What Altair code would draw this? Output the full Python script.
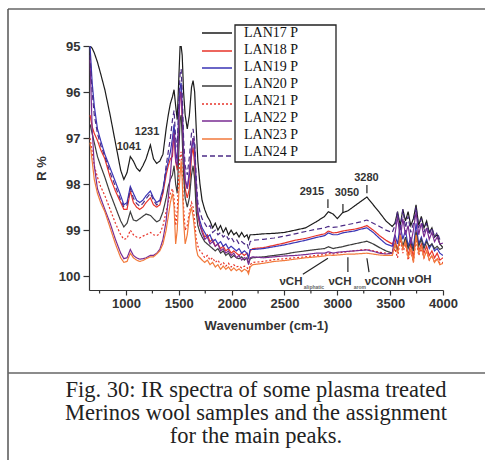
import altair as alt
import pandas as pd

# ---------------- data ----------------
wavenumber = [
    660, 680, 700, 730, 760, 800, 850, 900, 950, 980, 1010, 1041, 1070, 1100, 1130, 1160, 1190, 1231, 1260, 1290, 1320, 1350, 1380,
    1400, 1420, 1440, 1455, 1470, 1485, 1500, 1512, 1522, 1532, 1545, 1560, 1580, 1600, 1620, 1635, 1650, 1665, 1680, 1700,
    1720, 1745, 1770, 1795, 1820, 1845, 1870, 1895, 1920, 1945, 1970, 1995, 2020, 2045, 2070, 2095, 2120, 2145, 2160, 2175, 2200,
    2300, 2400, 2500, 2600, 2700, 2800, 2880, 2915, 2960, 3000, 3050, 3100, 3160, 3220, 3280, 3340, 3400, 3460, 3520,
    3545, 3570, 3595, 3620, 3645, 3670, 3695, 3720, 3745, 3770, 3795, 3820, 3845, 3870, 3895, 3920, 3945, 3970, 4000,
]

lan17 = [
    95.0, 95.05, 95.15, 95.35, 95.6, 95.95, 96.5, 97.1, 97.7, 97.9, 97.75, 97.4, 97.5, 97.65, 97.72, 97.6, 97.45, 97.15, 97.45, 97.55, 97.5, 97.35, 96.8,
    96.5, 96.25, 96.1, 95.95, 96.3, 96.6, 95.7, 95.0, 95.0, 95.2, 96.0, 96.5, 96.8, 96.5, 95.9, 95.75, 96.0, 96.8, 97.5, 98.0,
    98.35, 98.55, 98.7, 98.8, 98.95, 98.85, 99.0, 98.9, 99.05, 98.95, 99.1, 99.0, 99.1, 99.05, 99.15, 99.05, 99.15, 99.1, 99.2, 99.1, 99.1,
    99.08, 99.07, 99.05, 99.0, 98.95, 98.82, 98.7, 98.6, 98.65, 98.75, 98.62, 98.58, 98.48, 98.38, 98.28, 98.45, 98.62, 98.8, 98.92,
    98.85, 98.6, 98.9, 98.55, 98.8, 98.6, 98.9, 98.75, 98.45, 98.9, 98.7, 98.95, 98.8, 99.05, 98.95, 99.15, 99.1, 99.3, 99.38,
]
lan18 = [
    96.5, 96.75, 96.9, 97.05, 97.25, 97.45, 97.85, 98.15, 98.4, 98.55, 98.55, 98.15, 98.4, 98.5, 98.55, 98.5, 98.4, 98.3, 98.45, 98.5, 98.45, 98.2, 97.8,
    97.6, 97.45, 97.4, 96.8, 97.5, 97.7, 96.6, 96.0, 96.0, 96.6, 97.6, 98.1, 98.3, 98.1, 97.4, 97.2, 97.6, 98.4, 98.7, 98.9,
    99.0, 99.15, 99.1, 99.25, 99.2, 99.35, 99.3, 99.4, 99.35, 99.45, 99.4, 99.5, 99.45, 99.5, 99.55, 99.5, 99.55, 99.5, 99.6, 99.45, 99.4,
    99.38, 99.33, 99.28, 99.22, 99.18, 99.12, 99.08, 99.02, 99.06, 99.05, 99.02, 99.0, 98.98, 98.95, 98.9, 99.0, 99.12, 99.22, 99.3,
    99.2, 99.45, 99.1, 99.4, 99.2, 99.55, 99.3, 99.6, 99.0, 99.45, 99.3, 99.5, 99.35, 99.55, 99.45, 99.6, 99.5, 99.65, 99.6,
]
lan19 = [
    95.0, 95.8, 96.3, 96.8, 97.05, 97.35, 97.65, 97.95, 98.25, 98.45, 98.4, 98.05, 98.2, 98.35, 98.4, 98.35, 98.25, 98.15, 98.3, 98.4, 98.35, 98.1, 97.7,
    97.5, 97.3, 97.0, 96.7, 97.3, 97.5, 96.4, 95.9, 95.8, 96.3, 97.3, 97.9, 98.1, 97.8, 97.3, 97.0, 97.3, 98.2, 98.6, 98.8,
    98.95, 99.05, 99.15, 99.1, 99.25, 99.2, 99.3, 99.25, 99.35, 99.3, 99.4, 99.35, 99.4, 99.45, 99.4, 99.5, 99.45, 99.5, 99.6, 99.42, 99.42,
    99.4, 99.36, 99.32, 99.27, 99.22, 99.16, 99.12, 99.06, 99.1, 99.1, 99.06, 99.04, 99.02, 98.98, 98.95, 99.05, 99.18, 99.3, 99.35,
    99.1, 99.3, 98.9, 99.2, 99.0, 99.35, 99.15, 99.4, 98.85, 99.3, 99.15, 99.35, 99.2, 99.4, 99.3, 99.45, 99.4, 99.5, 99.55,
]
lan20 = [
    96.7, 96.9, 97.1, 97.4, 97.6, 97.85, 98.2, 98.5, 98.8, 98.93, 98.85, 98.6, 98.78, 98.8, 98.75, 98.7, 98.65, 98.68, 98.75, 98.82, 98.78, 98.6, 98.3,
    98.05, 97.9, 97.8, 97.6, 98.0, 98.2, 97.3, 96.6, 96.5, 97.0, 97.8, 98.3, 98.5, 98.3, 97.8, 97.6, 97.9, 98.6, 98.9, 99.05,
    99.15, 99.25, 99.3, 99.35, 99.4, 99.45, 99.4, 99.5, 99.45, 99.55, 99.5, 99.6, 99.55, 99.6, 99.62, 99.58, 99.65, 99.6, 99.72, 99.62, 99.6,
    99.58, 99.55, 99.52, 99.48, 99.45, 99.42, 99.4, 99.36, 99.4, 99.38, 99.36, 99.33, 99.3, 99.27, 99.24, 99.3, 99.38, 99.45, 99.5,
    99.3, 99.45, 99.1, 99.35, 99.15, 99.4, 99.25, 99.45, 99.05, 99.35, 99.2, 99.4, 99.25, 99.35, 99.3, 99.4, 99.35, 99.42, 99.38,
]
lan21 = [
    97.0, 97.3, 97.6, 97.85, 98.05, 98.25, 98.55, 98.85, 99.1, 99.2, 99.18, 99.0, 99.1, 99.15, 99.17, 99.13, 99.1, 99.05, 99.1, 99.12, 99.08, 98.9, 98.6,
    98.4, 98.2, 98.1, 98.3, 98.9, 98.6, 97.8, 97.4, 97.3, 97.7, 98.5, 99.0, 98.9, 98.6, 98.4, 98.5, 98.8, 99.2, 99.35, 99.45,
    99.5, 99.6, 99.55, 99.65, 99.6, 99.7, 99.65, 99.75, 99.7, 99.78, 99.72, 99.8, 99.75, 99.8, 99.78, 99.82, 99.78, 99.8, 99.9, 99.75, 99.7,
    99.68, 99.64, 99.62, 99.6, 99.58, 99.55, 99.53, 99.5, 99.52, 99.5, 99.48, 99.47, 99.45, 99.43, 99.42, 99.45, 99.48, 99.5, 99.52,
    99.4, 99.6, 99.2, 99.5, 99.3, 99.65, 99.45, 99.7, 99.2, 99.55, 99.4, 99.6, 99.45, 99.65, 99.55, 99.7, 99.6, 99.72, 99.7,
]
lan22 = [
    95.3, 96.8, 97.6, 98.1, 98.3, 98.55, 98.85, 99.2, 99.5, 99.62, 99.6, 99.42, 99.55, 99.6, 99.63, 99.62, 99.6, 99.55, 99.55, 99.5, 99.42, 99.2, 98.8,
    98.3, 97.8, 97.2, 96.9, 97.5, 97.6, 96.6, 96.1, 96.0, 96.4, 97.4, 97.9, 98.1, 97.7, 97.2, 97.0, 97.15, 98.0, 98.6, 98.9,
    99.05, 99.2, 99.15, 99.3, 99.25, 99.35, 99.3, 99.45, 99.4, 99.5, 99.45, 99.55, 99.5, 99.6, 99.55, 99.65, 99.6, 99.62, 99.75, 99.6, 99.58,
    99.6, 99.58, 99.56, 99.55, 99.53, 99.5, 99.5, 99.47, 99.5, 99.48, 99.47, 99.46, 99.45, 99.44, 99.43, 99.46, 99.5, 99.52, 99.5,
    99.1, 98.7, 99.2, 98.75, 99.1, 98.9, 99.3, 99.0, 98.6, 99.1, 98.85, 99.15, 98.95, 99.2, 99.05, 99.25, 99.15, 99.3, 99.28,
]
lan23 = [
    97.1, 97.5, 97.9, 98.2, 98.4, 98.6, 98.95, 99.3, 99.6, 99.7, 99.68, 99.5, 99.6, 99.65, 99.68, 99.66, 99.62, 99.58, 99.58, 99.52, 99.45, 99.3, 99.0,
    98.7, 98.4, 98.2, 98.5, 99.3, 99.0, 98.2, 97.8, 97.5, 97.9, 98.8, 99.3, 99.1, 98.7, 98.5, 98.7, 99.0, 99.4, 99.55, 99.6,
    99.65, 99.7, 99.65, 99.75, 99.7, 99.8, 99.75, 99.85, 99.78, 99.85, 99.8, 99.88, 99.82, 99.88, 99.84, 99.9, 99.85, 99.88, 99.95, 99.8, 99.75,
    99.72, 99.68, 99.66, 99.63, 99.6, 99.58, 99.56, 99.54, 99.55, 99.54, 99.53, 99.52, 99.52, 99.51, 99.5, 99.52, 99.54, 99.55, 99.55,
    99.3, 99.5, 99.1, 99.4, 99.25, 99.6, 99.4, 99.7, 99.1, 99.5, 99.35, 99.6, 99.45, 99.65, 99.55, 99.7, 99.62, 99.75, 99.72,
]
lan24 = [
    95.2, 96.0, 96.5, 96.9, 97.15, 97.4, 97.75, 98.05, 98.35, 98.5, 98.45, 98.1, 98.3, 98.42, 98.48, 98.42, 98.32, 98.2, 98.35, 98.45, 98.4, 98.15, 97.6,
    97.3, 97.0, 96.6, 96.4, 97.0, 97.2, 96.2, 95.6, 95.5, 96.0, 97.0, 97.6, 97.8, 97.4, 96.9, 96.8, 97.1, 97.9, 98.4, 98.6,
    98.75, 98.85, 98.95, 98.9, 99.05, 99.0, 99.1, 99.05, 99.15, 99.1, 99.2, 99.15, 99.25, 99.2, 99.3, 99.25, 99.3, 99.28, 99.4, 99.25, 99.22,
    99.2, 99.17, 99.13, 99.08, 99.03, 98.98, 98.95, 98.92, 98.94, 98.93, 98.9, 98.88, 98.85, 98.82, 98.78, 98.85, 98.92, 99.0, 99.05,
    98.9, 98.6, 99.0, 98.55, 98.95, 98.7, 99.05, 98.85, 98.5, 98.95, 98.75, 99.05, 98.85, 99.1, 98.95, 99.15, 99.05, 99.2, 99.22,
]

series_names = ["LAN17 P", "LAN18 P", "LAN19 P", "LAN20 P", "LAN21 P", "LAN22 P", "LAN23 P", "LAN24 P"]
series_values = [lan17, lan18, lan19, lan20, lan21, lan22, lan23, lan24]

x_major_ticks = [1000, 1500, 2000, 2500, 3000, 3500, 4000]
x_minor_ticks = [750, 1250, 1750, 2250, 2750, 3250, 3750]

peak_labels = ["1041", "1231", "2915", "3050", "3280"]
peak_w = [1028, 1199, 2760, 3091, 3275]
peak_r = [97.2, 96.87, 98.17, 98.2, 97.87]

band_labels = ["νCH", "νCH", "νCONH", "νOH"]
band_w = [2561, 3025, 3450, 3781]
band_r = [100.13, 100.13, 100.12, 100.08]

sub_labels = ["aliphatic", "arom"]
sub_w = [2779, 3214]
sub_r = [100.24, 100.24]

seg_w = [2911, 3053, 3280, 2674, 3100, 3280]
seg_w2 = [2911, 3053, 3280, 2911, 3100, 3300]
seg_r = [98.33, 98.43, 98.02, 99.96, 99.59, 99.61]
seg_r2 = [98.52, 98.63, 98.2, 99.61, 99.91, 99.91]

caption_lines = [
    "Fig. 30: IR spectra of some plasma treated",
    "Merinos wool samples and the assignment",
    "for the main peaks.",
]

# ---------------- styling ----------------
series_colors = ["#1c1c1c", "#e8342a", "#3a35b5", "#3c3c3c", "#e8342a", "#7a2c92", "#f27a3c", "#4c2c86"]
series_dash = [[1, 0], [1, 0], [1, 0], [1, 0], [2, 2], [1, 0], [1, 0], [5, 3]]

for v in series_values:
    assert len(v) == len(wavenumber)

rows = []
for name, vals in zip(series_names, series_values):
    for w, r in zip(wavenumber, vals):
        rows.append({"series": name, "w": w, "R": r})
df = pd.DataFrame(rows)

ann_peaks = pd.DataFrame({"label": peak_labels, "w": peak_w, "R": peak_r})
ann_bands = pd.DataFrame({"label": band_labels, "w": band_w, "R": band_r})
ann_subs = pd.DataFrame({"label": sub_labels, "w": sub_w, "R": sub_r})
ann_segs = pd.DataFrame({"w": seg_w, "w2": seg_w2, "R": seg_r, "R2": seg_r2})
minor_df = pd.DataFrame({"w": x_minor_ticks})

SANS = "Liberation Sans"
SERIF = "Liberation Serif"
AX = "#333333"

xscale = alt.Scale(domain=[650, 4000], nice=False, zero=False)
yscale = alt.Scale(domain=[95, 100.3], reverse=True, nice=False, zero=False)

xaxis = alt.Axis(
    values=x_major_ticks,
    format="d",
    labelOverlap=False,
    tickSize=5,
    title="Wavenumber (cm-1)",
    titleFont=SANS, titleFontSize=13, titleFontWeight="bold", titleColor=AX, titlePadding=9,
    labelFont=SANS, labelFontSize=13, labelFontWeight="bold", labelColor=AX, labelPadding=2,
    domainColor=AX, tickColor=AX, domainWidth=1.2, tickWidth=1.2, grid=False, labelFlush=False,
)
yaxis = alt.Axis(
    values=[95, 95.5, 96, 96.5, 97, 97.5, 98, 98.5, 99, 99.5, 100],
    labelExpr="datum.value % 1 === 0 ? datum.label : ''",
    labelOverlap=False,
    tickSize={"condition": {"test": "datum.value % 1 === 0", "value": 6}, "value": 3},
    title="R %",
    titleFont=SANS, titleFontSize=13, titleFontWeight="bold", titleColor=AX, titlePadding=10,
    labelFont=SANS, labelFontSize=13, labelFontWeight="bold", labelColor=AX, labelPadding=3,
    domainColor=AX, tickColor=AX, domainWidth=1.2, tickWidth=1.2, grid=False, labelFlush=False,
)

lines = alt.Chart(df).mark_line(strokeWidth=1.2, clip=True).encode(
    x=alt.X("w:Q", scale=xscale, axis=xaxis),
    y=alt.Y("R:Q", scale=yscale, axis=yaxis),
    color=alt.Color("series:N", scale=alt.Scale(domain=series_names, range=series_colors), legend=None),
    strokeDash=alt.StrokeDash("series:N", scale=alt.Scale(domain=series_names, range=series_dash), legend=None),
)

minor = alt.Chart(minor_df).mark_rule(color=AX, strokeWidth=1.2).encode(
    x="w:Q", y=alt.value(244), y2=alt.value(247.5))

peaks = alt.Chart(ann_peaks).mark_text(font=SANS, fontSize=11, fontWeight="bold", color=AX).encode(
    x="w:Q", y="R:Q", text="label:N")
bands = alt.Chart(ann_bands).mark_text(font=SANS, fontSize=11.5, fontWeight="bold", color=AX).encode(
    x="w:Q", y="R:Q", text="label:N")
subs = alt.Chart(ann_subs).mark_text(font=SANS, fontSize=5, fontWeight="bold", color="#666").encode(
    x="w:Q", y="R:Q", text="label:N")
segs = alt.Chart(ann_segs).mark_rule(color="#222", strokeWidth=1.2).encode(
    x="w:Q", x2="w2:Q", y="R:Q", y2="R2:Q")

one = pd.DataFrame({"k": [0]})

# legend: samples outside a framed label box
legend_layers = []
sym_y = [-13, 5, 22, 40, 58, 75, 93, 110]
for i, name in enumerate(series_names):
    legend_layers.append(
        alt.Chart(one).mark_rule(color=series_colors[i], strokeDash=series_dash[i], strokeWidth=1.4).encode(
            x=alt.value(113), x2=alt.value(143), y=alt.value(sym_y[i]))
    )
legend_box = alt.Chart(one).mark_rect(fillOpacity=0, stroke="#222", strokeWidth=1.3).encode(
    x=alt.value(146), x2=alt.value(247), y=alt.value(-21), y2=alt.value(116))
legend_text = alt.Chart(one).mark_text(
    text=series_names, font=SERIF, fontSize=14, lineHeight=17, align="left", baseline="middle", color="#111"
).encode(x=alt.value(155), y=alt.value(-13))

# outer frame and caption
frame_top = alt.Chart(one).mark_rule(color="#666", strokeWidth=1.5).encode(
    x=alt.value(-81), x2=alt.value(400), y=alt.value(-37))
frame_left = alt.Chart(one).mark_rule(color="#555", strokeWidth=1.5).encode(
    x=alt.value(-81), y=alt.value(-37), y2=alt.value(420))
frame_sep = alt.Chart(one).mark_rule(color="#666", strokeWidth=1.5).encode(
    x=alt.value(-81), x2=alt.value(400), y=alt.value(327))
caption = alt.Chart(one).mark_text(
    text=caption_lines, font=SERIF, fontSize=22.5, lineHeight=23, align="center", baseline="alphabetic", color="#222"
).encode(x=alt.value(167), y=alt.value(351))

chart = alt.layer(
    lines, minor, segs, peaks, bands, subs, *legend_layers, legend_box, legend_text,
    frame_top, frame_left, frame_sep, caption
).properties(
    width=354, height=244,
    padding={"left": 89, "top": 46, "right": 42, "bottom": 170},
    autosize="none",
    background="white",
).configure_view(stroke=None)

chart.save("out.html", embed_options={"renderer": "svg", "actions": False})
